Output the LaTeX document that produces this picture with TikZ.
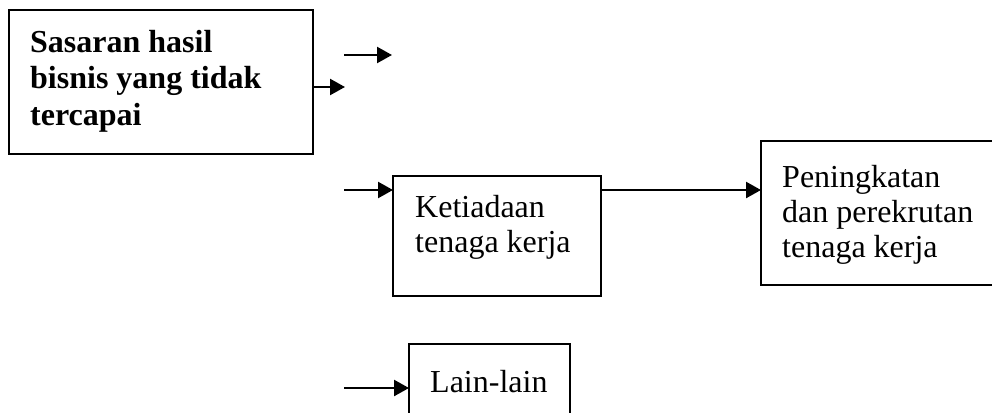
\documentclass[tikz,border=0pt]{standalone}
\usepackage{fontspec}
\setmainfont{Liberation Serif}
\usetikzlibrary{arrows.meta}
\begin{document}
\begin{tikzpicture}[x=1pt,y=-1pt,
  box/.style={draw, line width=1.8pt, inner sep=0pt, outer sep=0pt},
  conn/.style={line width=2.4pt, -{Triangle[length=15pt,width=16pt]}},
  txt/.style={inner sep=0pt, align=left, anchor=base west, font=\fontsize{32}{35}\selectfont},
  btxt/.style={txt, font=\fontsize{32}{36.5}\selectfont\bfseries}]
\useasboundingbox (0,0) rectangle (992,412);
\clip (0,0) rectangle (992,412);
\node[box, minimum width=304pt, minimum height=144pt] (sasaran) at (161,82) {};
\node[box, minimum width=208pt, minimum height=120pt] (ketiadaan) at (497,236) {};
\node[box, minimum width=249pt, minimum height=144pt] (peningkatan) at (885.5,213) {};
\node[box, minimum width=161pt, minimum height=96pt] (lain) at (489.5,392) {};
\node[btxt] (t1) at (30,125) {Sasaran hasil\\bisnis yang tidak\\tercapai};
\node[txt] (t2) at (415,252) {Ketiadaan\\tenaga kerja};
\node[txt] (t3) at (782,257) {Peningkatan\\dan perekrutan\\tenaga kerja};
\node[txt] (t4) at (430,392) {Lain-lain};
\coordinate (a1s) at (344,55);
\coordinate (a1e) at (392,55);
\coordinate (a2e) at (345,87);
\coordinate (a3s) at (344,190);
\coordinate (a5s) at (344,388);
\draw[conn] (a1s) -- (a1e);
\draw[conn] (sasaran.east |- a2e) -- (a2e);
\draw[conn] (a3s) -- (a3s -| ketiadaan.west);
\draw[conn] (ketiadaan.east |- a3s) -- (a3s -| peningkatan.west);
\draw[conn] (a5s) -- (a5s -| lain.west);
\end{tikzpicture}
\end{document}
